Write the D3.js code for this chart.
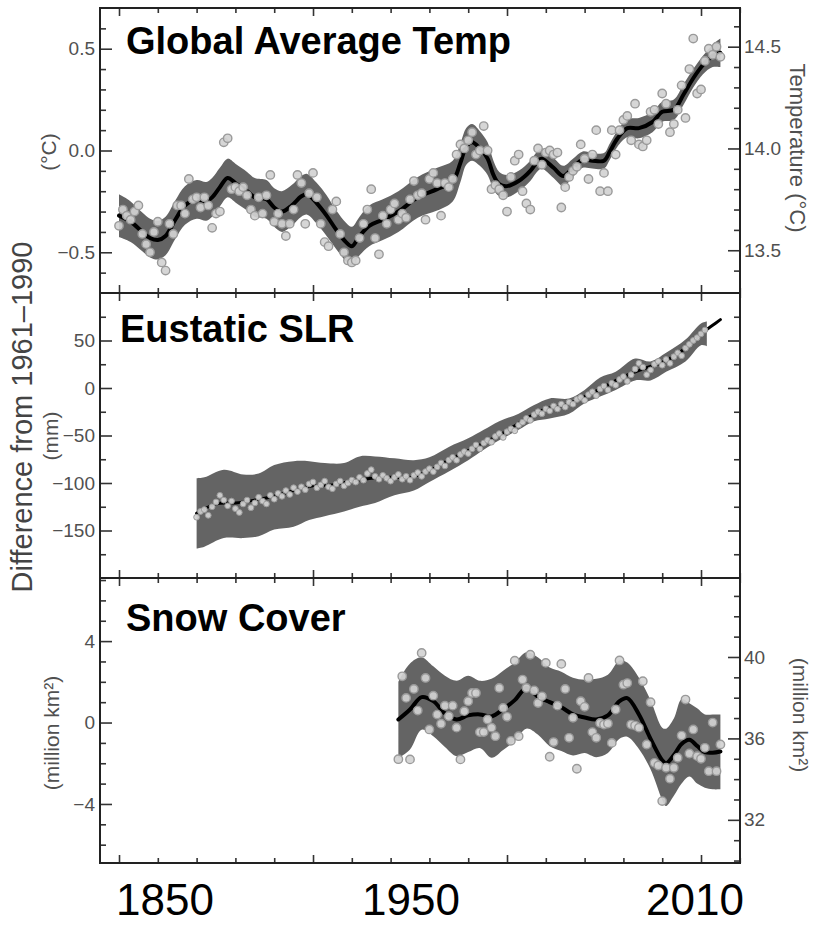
<!DOCTYPE html>
<html><head><meta charset="utf-8">
<script src="https://cdn.jsdelivr.net/npm/d3@7"></script>
<style>
body{margin:0;background:#fff}
svg{display:block}
text{font-family:"Liberation Sans",Arial,Helvetica,sans-serif}
</style>
</head><body>
<svg id="chart" width="815" height="925"></svg>
<script>
// ---------------- DATA ----------------
// Global average temperature anomaly (°C, vs 1961–1990), annual 1850–2005
const tempYears = d3.range(1850, 2006);
const tempAnnual = [
-0.37,-0.29,-0.32,-0.34,-0.30,-0.27,-0.41,-0.46,-0.50,-0.40,
-0.35,-0.55,-0.59,-0.36,-0.41,-0.27,-0.27,-0.31,-0.14,-0.24,
-0.23,-0.28,-0.23,-0.27,-0.38,-0.31,-0.30,0.04,0.06,-0.19,
-0.18,-0.20,-0.18,-0.22,-0.29,-0.32,-0.23,-0.31,-0.22,-0.12,
-0.35,-0.31,-0.36,-0.42,-0.36,-0.29,-0.12,-0.16,-0.36,-0.21,
-0.11,-0.23,-0.36,-0.45,-0.47,-0.29,-0.25,-0.41,-0.50,-0.54,
-0.55,-0.54,-0.43,-0.36,-0.29,-0.19,-0.43,-0.51,-0.32,-0.36,
-0.29,-0.26,-0.34,-0.31,-0.33,-0.24,-0.15,-0.22,-0.21,-0.34,
-0.14,-0.11,-0.16,-0.32,-0.16,-0.18,-0.14,-0.02,0.03,0.01,
0.05,0.09,-0.02,0.00,0.12,0.00,-0.19,-0.17,-0.19,-0.22,
-0.30,-0.13,-0.05,-0.02,-0.20,-0.26,-0.29,-0.05,0.01,-0.07,
-0.01,0.00,-0.02,-0.01,-0.28,-0.18,-0.13,-0.10,-0.08,0.03,
-0.04,-0.14,-0.02,0.10,-0.20,-0.11,-0.20,0.10,-0.02,0.10,
0.15,0.17,0.05,0.23,0.03,0.02,0.05,0.19,0.20,0.13,
0.28,0.23,0.09,0.13,0.20,0.32,0.16,0.40,0.55,0.28,
0.30,0.44,0.50,0.47,0.51,0.46];
// smoothed decadal curve and its uncertainty half-width
const tempSmoothYears = [1850,1853,1856,1858,1860,1862,1864.5,1867,1870,1872.5,1874,1876,1878,1880,1883,1885,1888,1890,1892,1894.5,1897,1898.5,1901,1903.5,1906,1908.5,1910,1912,1914.5,1918,1922,1927,1932,1936,1938,1939.5,1941,1943,1945,1946.5,1948,1950,1953,1956,1958,1959,1962,1964.5,1967,1969.5,1972,1975,1976.5,1978.5,1981,1984,1987.5,1990,1993,1995.5,1998,2000.5,2003,2005];
const tempSmooth = [-0.32,-0.35,-0.40,-0.43,-0.44,-0.42,-0.34,-0.27,-0.24,-0.25,-0.23,-0.18,-0.135,-0.16,-0.20,-0.23,-0.24,-0.28,-0.30,-0.27,-0.225,-0.215,-0.26,-0.32,-0.39,-0.45,-0.47,-0.42,-0.37,-0.34,-0.30,-0.23,-0.19,-0.15,-0.06,0.02,0.04,0.01,-0.04,-0.12,-0.165,-0.175,-0.15,-0.10,-0.05,-0.04,-0.085,-0.125,-0.085,-0.045,-0.05,-0.05,-0.005,0.06,0.11,0.11,0.14,0.19,0.20,0.275,0.355,0.42,0.465,0.48];
const tempSpread = [0.105,0.10,0.095,0.095,0.095,0.095,0.095,0.095,0.095,0.095,
0.095,0.095,0.095,0.095,0.095,0.095,0.095,0.095,0.10,0.10,
0.10,0.10,0.10,0.10,0.095,0.095,0.095,0.095,0.10,0.10,
0.10,0.10,0.105,0.10,0.095,0.09,0.09,0.085,0.08,0.07,
0.06,0.055,0.05,0.05,0.05,0.05,0.05,0.05,0.045,0.04,
0.038,0.038,0.04,0.04,0.045,0.05,0.05,0.05,0.05,0.05,
0.045,0.045,0.055,0.07];

// Eustatic sea level rise (mm), annual 1870–2001
const slrYears = d3.range(1870, 2002);
const slrAnnual = [
-136,-130,-128,-134,-125,-120,-113,-118,-124,-119,
-127,-131,-122,-118,-126,-121,-115,-119,-122,-113,
-117,-111,-114,-108,-112,-105,-109,-104,-107,-101,
-99,-105,-102,-98,-104,-106,-101,-98,-103,-100,
-97,-99,-94,-97,-90,-86,-93,-96,-92,-95,
-98,-94,-91,-96,-93,-97,-92,-89,-93,-88,
-85,-88,-83,-79,-82,-76,-73,-76,-70,-67,
-69,-64,-60,-64,-58,-55,-57,-51,-48,-52,
-46,-43,-45,-39,-36,-32,-34,-28,-25,-27,
-22,-24,-19,-22,-17,-20,-15,-17,-12,-10,
-13,-7,-4,-8,-1,2,-2,5,3,9,
12,7,14,20,26,22,14,19,25,28,
24,30,26,33,37,34,42,46,50,53,
57,61];
const slrSmoothYears = [1870,1875,1880,1885,1890,1895,1900,1905,1910,1915,1920,1925,1930,1935,1940,1945,1950,1955,1960,1965,1970,1975,1980,1985,1990,1995,2000,2003,2005];
const slrSmooth = [-132,-122,-121,-118,-114,-108,-103,-102,-98,-95,-94,-94,-87,-76,-66,-56,-45,-32,-22,-18,-9,1,12,20,27,39,57,66,72];
const slrBandYears = [1870,1872,1877,1882,1886,1890,1895,1899,1903,1908,1912,1916,1921,1926,1930,1935,1940,1944,1948,1953,1957,1961,1966,1970,1974,1978,1983,1987,1991,1996,2000,2001.5];
const slrUpper = [-95,-94,-86,-91,-90,-81,-77,-77,-79,-79,-72,-72,-74,-76,-73,-62,-53,-44,-35,-27,-18,-11,-11,-2,11,17,31,28,37,51,68,70];
const slrLower = [-169,-167,-158,-158,-156,-149,-146,-139,-135,-130,-125,-121,-113,-108,-99,-88,-76,-65,-55,-44,-35,-32,-27,-16,-9,-2,8,8,17,28,45,44];

// NH snow cover anomaly (million km²), annual 1922–2005
const snowYears = d3.range(1922, 2006);
const snowAnnual = [
-1.80,2.27,1.21,-1.81,1.65,0.59,3.42,2.19,-0.34,1.32,
0.39,-0.06,0.83,0.31,0.83,-0.25,-1.81,0.56,1.05,1.45,
1.45,-0.47,-0.47,0.15,-0.25,-0.67,1.70,0.72,0.28,-0.90,
3.04,-0.67,2.11,1.70,3.33,1.58,0.96,1.29,2.93,-1.68,
-0.96,0.83,2.88,1.65,-0.75,0.23,-2.27,1.05,0.77,2.19,
-0.47,-0.75,-0.02,-0.10,-0.05,-1.00,0.64,3.05,1.86,1.94,
-0.10,-0.15,-0.25,2.03,-1.08,1.00,-1.98,-2.11,-3.86,-2.22,
-2.76,-2.22,-1.73,-0.64,1.13,-1.52,-0.34,-1.65,-1.78,-1.24,
-2.39,0.00,-2.39,-1.08];
const snowSmoothYears = [1922,1925,1928,1931,1934,1937,1940,1943,1946,1949,1952,1955,1958,1961,1964,1967,1970,1973,1976,1979,1981,1984,1987,1990,1991,1993,1995,1997,1999,2001,2003,2005];
const snowSmooth = [0.15,0.64,1.25,1.05,0.45,0.15,0.35,0.40,0.30,0.65,1.10,1.70,1.27,1.00,0.75,0.40,0.25,0.15,0.35,1.05,1.20,0.40,-0.80,-1.85,-2.00,-1.60,-1.05,-0.85,-1.15,-1.45,-1.48,-1.42];
const snowUpper = [2.0,2.9,3.2,2.76,2.3,2.05,2.3,2.05,2.15,2.55,2.95,3.45,3.2,2.7,2.5,2.2,2.1,2.15,2.35,3.05,2.95,2.2,1.1,-0.25,-0.3,0.2,1.15,0.95,0.7,0.4,0.4,0.4];
const snowLower = [-1.75,-1.32,-0.35,-0.67,-1.2,-1.65,-1.45,-1.25,-1.73,-1.35,-0.9,-0.3,-0.6,-1.16,-1.4,-1.62,-1.5,-1.7,-1.5,-0.8,-0.7,-1.3,-2.3,-3.8,-4.1,-3.6,-3.0,-2.65,-3.0,-3.2,-3.28,-3.28];

// Ticks and labels
const xMajor = [1850, 1900, 1950, 2000];
const xMinor = [1860,1870,1880,1890,1910,1920,1930,1940,1960,1970,1980,1990,2010];
const tempTicks = [-0.5, 0.0, 0.5];
const tempMinor = [-0.6,-0.4,-0.3,-0.2,-0.1,0.1,0.2,0.3,0.4,0.6];
const tempRightTicks = [13.5, 14.0, 14.5];
const tempRightMinor = [13.4,13.6,13.7,13.8,13.9,14.1,14.2,14.3,14.4,14.6];
const slrTicks = [-150,-100,-50,0,50];
const slrMinor = [-175,-125,-75,-25,25,75];
const snowTicks = [-4, 0, 4];
const snowMinor = [-6,-5,-3,-2,-1,1,2,3,5,6,7];
const snowRightTicks = [32, 36, 40];
const snowRightMinor = [30,31,33,34,35,37,38,39,41,42,43];
const xLabels = ["1850", "1950", "2010"];
const panelTitles = ["Global Average Temp", "Eustatic SLR", "Snow Cover"];

// ---------------- LAYOUT ----------------
const svg = d3.select("#chart");
const L = 100, R = 740;
const P = [[8, 293], [293, 578], [578, 863]];
const x = d3.scaleLinear().domain([1845.1, 2010.05]).range([L, R]);
const yT = d3.scaleLinear().domain([-0.7, 0.7]).range([P[0][1], P[0][0]]);
const yTR = d3.scaleLinear().domain([13.29, 14.69]).range([P[0][1], P[0][0]]);
const yS = d3.scaleLinear().domain([-200, 100]).range([P[1][1], P[1][0]]);
const yN = d3.scaleLinear().domain([-6.9, 7.1]).range([P[2][1], P[2][0]]);
const yNR = d3.scaleLinear().domain([-6.9 + 36.78, 7.1 + 36.78]).range([P[2][1], P[2][0]]);

const BAND = "#646464", DOT_FILL = "#d2d2d2", DOT_STROKE = "#9a9a9a", TXT = "#505050";

const defs = svg.append("defs");
P.forEach((p, i) => {
  defs.append("clipPath").attr("id", "clip" + i)
    .append("rect").attr("x", L).attr("y", p[0]).attr("width", R - L).attr("height", p[1] - p[0]);
});

const curve = d3.curveCatmullRom.alpha(0.5);

function drawPanel(i, y, band, smooth, dots, opts) {
  const g = svg.append("g").attr("clip-path", `url(#clip${i})`);
  g.append("path").datum(band)
    .attr("fill", BAND)
    .attr("d", d3.area().curve(curve).x(d => x(d[0])).y0(d => y(d[1])).y1(d => y(d[2])));
  g.append("path").datum(smooth)
    .attr("fill", "none").attr("stroke", "#000").attr("stroke-width", opts.lw)
    .attr("stroke-linejoin", "round").attr("stroke-linecap", "round")
    .attr("d", d3.line().curve(curve).x(d => x(d[0])).y(d => y(d[1])));
  g.selectAll("circle.d").data(dots).join("circle")
    .attr("cx", d => x(d[0])).attr("cy", d => y(d[1])).attr("r", opts.r)
    .attr("fill", DOT_FILL).attr("fill-opacity", 0.92)
    .attr("stroke", DOT_STROKE).attr("stroke-width", opts.sw);
}

// Temperature panel
drawPanel(0, yT,
  tempSmoothYears.map((t, k) => [t, tempSmooth[k] - tempSpread[k], tempSmooth[k] + tempSpread[k]]),
  tempSmoothYears.map((t, k) => [t, tempSmooth[k]]),
  tempYears.map((t, k) => [t, tempAnnual[k]]),
  {lw: 4, r: 4.2, sw: 1.4});

// Sea level panel
drawPanel(1, yS,
  slrBandYears.map((t, k) => [t, slrLower[k], slrUpper[k]]),
  slrSmoothYears.map((t, k) => [t, slrSmooth[k]]),
  slrYears.map((t, k) => [t, slrAnnual[k]]),
  {lw: 3, r: 2.9, sw: 1});

// Snow cover panel
drawPanel(2, yN,
  snowSmoothYears.map((t, k) => [t, snowLower[k], snowUpper[k]]),
  snowSmoothYears.map((t, k) => [t, snowSmooth[k]]),
  snowYears.map((t, k) => [t, snowAnnual[k]]),
  {lw: 4, r: 4.2, sw: 1.4});

// ---------------- AXES ----------------
function styleAxis(g) {
  g.select(".domain").remove();
  g.selectAll("line").attr("stroke", "#333").attr("stroke-width", 1.6);
  g.selectAll("text").attr("fill", TXT).style("font-size", "19px")
    .style("font-family", '"Liberation Sans",Arial,sans-serif');
}
function leftAxis(y, major, minor, fmt) {
  svg.append("g").attr("transform", `translate(${L},0)`)
    .call(d3.axisLeft(y).tickValues(major).tickSize(-12).tickPadding(5).tickFormat(fmt)).call(styleAxis);
  svg.append("g").attr("transform", `translate(${L},0)`)
    .call(d3.axisLeft(y).tickValues(minor).tickSize(-6).tickFormat("")).call(styleAxis);
}
function rightAxis(y, major, minor, fmt) {
  svg.append("g").attr("transform", `translate(${R},0)`)
    .call(d3.axisRight(y).tickValues(major).tickSize(-12).tickPadding(4).tickFormat(fmt)).call(styleAxis);
  svg.append("g").attr("transform", `translate(${R},0)`)
    .call(d3.axisRight(y).tickValues(minor).tickSize(-6).tickFormat("")).call(styleAxis);
}
leftAxis(yT, tempTicks, tempMinor, d3.format(".1f"));
rightAxis(yTR, tempRightTicks, tempRightMinor, d3.format(".1f"));
leftAxis(yS, slrTicks, slrMinor, d3.format("d"));
rightAxis(yS, slrTicks, slrMinor, () => "");
leftAxis(yN, snowTicks, snowMinor, d3.format("d"));
rightAxis(yNR, snowRightTicks, snowRightMinor, d3.format("d"));

P.forEach(p => {
  svg.append("g").attr("transform", `translate(0,${p[0]})`)
    .call(d3.axisBottom(x).tickValues(xMajor).tickSize(8).tickFormat("")).call(styleAxis);
  svg.append("g").attr("transform", `translate(0,${p[0]})`)
    .call(d3.axisBottom(x).tickValues(xMinor).tickSize(5).tickFormat("")).call(styleAxis);
  svg.append("g").attr("transform", `translate(0,${p[1]})`)
    .call(d3.axisTop(x).tickValues(xMajor).tickSize(8).tickFormat("")).call(styleAxis);
  svg.append("g").attr("transform", `translate(0,${p[1]})`)
    .call(d3.axisTop(x).tickValues(xMinor).tickSize(5).tickFormat("")).call(styleAxis);
  svg.append("rect").attr("x", L).attr("y", p[0]).attr("width", R - L).attr("height", p[1] - p[0])
    .attr("fill", "none").attr("stroke", "#222").attr("stroke-width", 2);
});

// ---------------- TEXT ----------------
const titlePos = [[126, 54], [120, 342], [126, 631]];
panelTitles.forEach((t, i) => {
  svg.append("text").attr("x", titlePos[i][0]).attr("y", titlePos[i][1])
    .attr("font-size", 38).attr("font-weight", "bold").attr("fill", "#000").text(t);
});

function rotText(tx, ty, ang, size, fill, str) {
  svg.append("text").attr("transform", `translate(${tx},${ty}) rotate(${ang})`)
    .attr("text-anchor", "middle").attr("dominant-baseline", "central")
    .attr("font-size", size).attr("fill", fill).text(str);
}
rotText(48, 152, -90, 21, TXT, "(°C)");
rotText(50, 436, -90, 21, TXT, "(mm)");
rotText(51, 733, -90, 21, TXT, "(million km²)");
rotText(22, 417, -90, 29, "#444", "Difference from 1961–1990");
rotText(797, 148, 90, 22, TXT, "Temperature (°C)");
rotText(800, 715, 90, 21, TXT, "(million km²)");

const xLabelPos = [165, 411, 695];
xLabels.forEach((t, i) => {
  svg.append("text").attr("x", xLabelPos[i]).attr("y", 915).attr("text-anchor", "middle")
    .attr("font-size", 44).attr("fill", "#000").text(t);
});
</script>
</body></html>
